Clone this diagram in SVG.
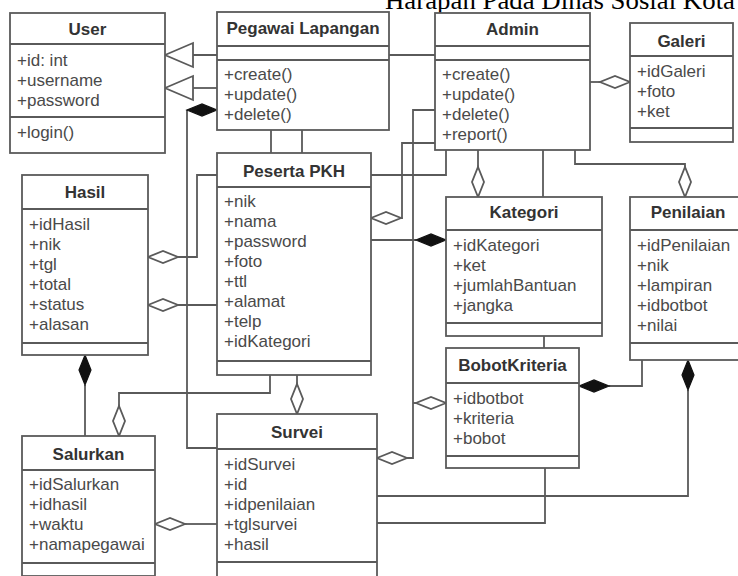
<svg xmlns="http://www.w3.org/2000/svg" width="738" height="576" viewBox="0 0 738 576">
<style>
  .box{fill:#fff;stroke:#5a5a5a;stroke-width:1.8}
  .div{stroke:#5a5a5a;stroke-width:1.8}
  .t{font-family:"Liberation Sans",Arial,sans-serif;font-size:17px;font-weight:bold;fill:#333;text-anchor:middle}
  .a{font-family:"Liberation Sans",Arial,sans-serif;font-size:17px;fill:#4a4a4a}
  .c{fill:none;stroke:#5a5a5a;stroke-width:1.8}
  .agg{fill:#fff;stroke:#5a5a5a;stroke-width:1.8}
  .comp{fill:#111;stroke:#111;stroke-width:1.2}
  .gen{fill:#fff;stroke:#5a5a5a;stroke-width:1.8}
  .hdr{font-family:"Liberation Serif","Times New Roman",serif;font-size:26px;fill:#000}
</style>
<defs>
  <path id="dia" d="M0,0 L15,-6 L30,0 L15,6 Z"/>
  <path id="tri" d="M0,0 L28,-12 L28,12 Z"/>
</defs>
<rect width="738" height="576" fill="#fff"/>
<text class="hdr" x="385" y="9" textLength="350" lengthAdjust="spacingAndGlyphs">Harapan Pada Dinas Sosial Kota</text>

<g id="connectors">
  <path class="c" d="M193,55 H217 M389,55 H435"/>
  <path class="c" d="M193,88 H217"/>
  <path class="c" d="M187,110 V448 H217"/>
  <path class="c" d="M178,257 H197 V175 H217"/>
  <path class="c" d="M178,305 H217"/>
  <path class="c" d="M85,385 V436"/>
  <path class="c" d="M119,406 V393 H270 V375"/>
  <path class="c" d="M297,384 V375"/>
  <path class="c" d="M185,524 H217"/>
  <path class="c" d="M271,130 V153 M302,130 V153"/>
  <path class="c" d="M371,175 H446 V150"/>
  <path class="c" d="M401,218 H402 V143 H435"/>
  <path class="c" d="M371,240 H416"/>
  <path class="c" d="M435,110 H413 V458 H407"/>
  <path class="c" d="M413,403 H416"/>
  <path class="c" d="M478,150 V167"/>
  <path class="c" d="M543,150 V197"/>
  <path class="c" d="M575,150 V164 H685 V169"/>
  <path class="c" d="M590,82 H600"/>
  <path class="c" d="M544,336 V348"/>
  <path class="c" d="M609,386 H642 V360"/>
  <path class="c" d="M688,390 V496 H377"/>
  <path class="c" d="M545,468 V523 H377"/>
  <use href="#tri" class="gen" transform="translate(165,55)"/>
  <use href="#tri" class="gen" transform="translate(165,88)"/>
  <use href="#dia" class="comp" transform="translate(217,110) rotate(180)"/>
  <use href="#dia" class="agg" transform="translate(148,257)"/>
  <use href="#dia" class="agg" transform="translate(148,305)"/>
  <use href="#dia" class="comp" transform="translate(85,355) rotate(90)"/>
  <use href="#dia" class="agg" transform="translate(119,436) rotate(-90)"/>
  <use href="#dia" class="agg" transform="translate(297,414) rotate(-90)"/>
  <use href="#dia" class="agg" transform="translate(155,524)"/>
  <use href="#dia" class="agg" transform="translate(371,218)"/>
  <use href="#dia" class="comp" transform="translate(446,240) rotate(180)"/>
  <use href="#dia" class="agg" transform="translate(446,403) rotate(180)"/>
  <use href="#dia" class="agg" transform="translate(377,458)"/>
  <use href="#dia" class="agg" transform="translate(478,197) rotate(-90)"/>
  <use href="#dia" class="agg" transform="translate(685,197) rotate(-90)"/>
  <use href="#dia" class="agg" transform="translate(630,82) rotate(180)"/>
  <use href="#dia" class="comp" transform="translate(579,386)"/>
  <use href="#dia" class="comp" transform="translate(688,360) rotate(90)"/>
</g>

<g id="user">
  <rect class="box" x="10" y="13" width="155" height="140"/>
  <path class="div" d="M10,44 H165 M10,117 H165"/>
  <text class="t" x="87.5" y="35">User</text>
  <text class="a" x="17" y="66">+id: int</text>
  <text class="a" x="17" y="86">+username</text>
  <text class="a" x="17" y="106">+password</text>
  <text class="a" x="17" y="138">+login()</text>
</g>

<g id="pegawai">
  <rect class="box" x="217" y="12" width="172" height="118"/>
  <path class="div" d="M217,46 H389 M217,60 H389"/>
  <text class="t" x="303" y="34">Pegawai Lapangan</text>
  <text class="a" x="224" y="80">+create()</text>
  <text class="a" x="224" y="100">+update()</text>
  <text class="a" x="224" y="120">+delete()</text>
</g>

<g id="admin">
  <rect class="box" x="435" y="13" width="155" height="137"/>
  <path class="div" d="M435,46 H590 M435,60 H590"/>
  <text class="t" x="512.5" y="35">Admin</text>
  <text class="a" x="442" y="80">+create()</text>
  <text class="a" x="442" y="100">+update()</text>
  <text class="a" x="442" y="120">+delete()</text>
  <text class="a" x="442" y="140">+report()</text>
</g>

<g id="galeri">
  <rect class="box" x="630" y="23" width="103" height="119"/>
  <path class="div" d="M630,56 H733 M630,128 H733"/>
  <text class="t" x="681.5" y="47">Galeri</text>
  <text class="a" x="637" y="77">+idGaleri</text>
  <text class="a" x="637" y="97">+foto</text>
  <text class="a" x="637" y="117">+ket</text>
</g>

<g id="hasil">
  <rect class="box" x="22" y="175" width="126" height="180"/>
  <path class="div" d="M22,209 H148 M22,343 H148"/>
  <text class="t" x="85" y="198">Hasil</text>
  <text class="a" x="29" y="230">+idHasil</text>
  <text class="a" x="29" y="250">+nik</text>
  <text class="a" x="29" y="270">+tgl</text>
  <text class="a" x="29" y="290">+total</text>
  <text class="a" x="29" y="310">+status</text>
  <text class="a" x="29" y="330">+alasan</text>
</g>

<g id="peserta">
  <rect class="box" x="217" y="153" width="154" height="222"/>
  <path class="div" d="M217,187 H371 M217,361 H371"/>
  <text class="t" x="294" y="177">Peserta PKH</text>
  <text class="a" x="224" y="207">+nik</text>
  <text class="a" x="224" y="227">+nama</text>
  <text class="a" x="224" y="247">+password</text>
  <text class="a" x="224" y="267">+foto</text>
  <text class="a" x="224" y="287">+ttl</text>
  <text class="a" x="224" y="307">+alamat</text>
  <text class="a" x="224" y="327">+telp</text>
  <text class="a" x="224" y="347">+idKategori</text>
</g>

<g id="kategori">
  <rect class="box" x="446" y="197" width="156" height="139"/>
  <path class="div" d="M446,230 H602 M446,323 H602"/>
  <text class="t" x="524" y="218">Kategori</text>
  <text class="a" x="453" y="251">+idKategori</text>
  <text class="a" x="453" y="271">+ket</text>
  <text class="a" x="453" y="291">+jumlahBantuan</text>
  <text class="a" x="453" y="311">+jangka</text>
</g>

<g id="penilaian">
  <rect class="box" x="630" y="197" width="116" height="163"/>
  <path class="div" d="M630,230 H746 M630,343 H746"/>
  <text class="t" x="688" y="218">Penilaian</text>
  <text class="a" x="637" y="251">+idPenilaian</text>
  <text class="a" x="637" y="271">+nik</text>
  <text class="a" x="637" y="291">+lampiran</text>
  <text class="a" x="637" y="311">+idbotbot</text>
  <text class="a" x="637" y="331">+nilai</text>
</g>

<g id="bobotkriteria">
  <rect class="box" x="446" y="348" width="133" height="120"/>
  <path class="div" d="M446,383 H579 M446,456 H579"/>
  <text class="t" x="512.5" y="371">BobotKriteria</text>
  <text class="a" x="453" y="404">+idbotbot</text>
  <text class="a" x="453" y="424">+kriteria</text>
  <text class="a" x="453" y="444">+bobot</text>
</g>

<g id="salurkan">
  <rect class="box" x="22" y="436" width="133" height="140"/>
  <path class="div" d="M22,470 H155 M22,563 H155"/>
  <text class="t" x="88.5" y="460">Salurkan</text>
  <text class="a" x="29" y="490">+idSalurkan</text>
  <text class="a" x="29" y="510">+idhasil</text>
  <text class="a" x="29" y="530">+waktu</text>
  <text class="a" x="29" y="550">+namapegawai</text>
</g>

<g id="survei">
  <rect class="box" x="217" y="414" width="160" height="165"/>
  <path class="div" d="M217,449 H377 M217,562 H377"/>
  <text class="t" x="297" y="438">Survei</text>
  <text class="a" x="224" y="470">+idSurvei</text>
  <text class="a" x="224" y="490">+id</text>
  <text class="a" x="224" y="510">+idpenilaian</text>
  <text class="a" x="224" y="530">+tglsurvei</text>
  <text class="a" x="224" y="550">+hasil</text>
</g>
</svg>
